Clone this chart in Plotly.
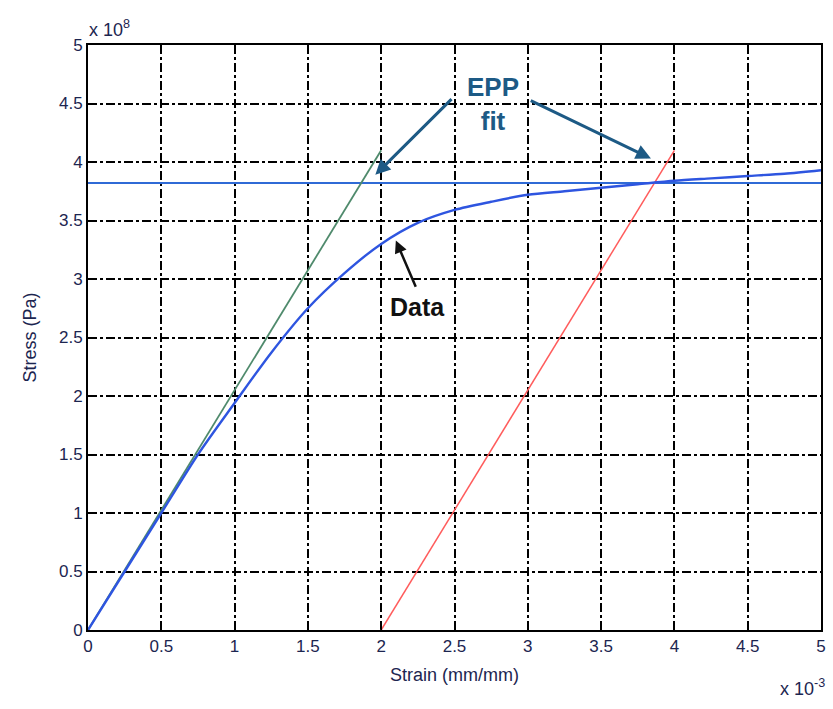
import plotly.graph_objects as go

# Measured stress-strain response (strain in 1e-3 mm/mm, stress in 1e8 Pa)
strain_data = [0, 0.25, 0.5, 0.75, 1.0, 1.25, 1.5, 1.75, 2.0, 2.25, 2.5,
               2.75, 3.0, 3.25, 3.5, 3.75, 4.0, 4.25, 4.5, 4.75, 5.0]
stress_data = [0, 0.5, 1.0, 1.5, 1.94, 2.37, 2.75, 3.05, 3.30, 3.48, 3.59,
               3.66, 3.72, 3.75, 3.78, 3.81, 3.84, 3.86, 3.88, 3.90, 3.93]

# Elastic-perfectly-plastic fit
yield_strain = [0, 5]
yield_stress = [3.82, 3.82]
elastic_strain = [0, 2.0]
elastic_stress = [0, 4.1]
offset_strain = [2.0, 4.0]
offset_stress = [0, 4.1]

x_ticks = [0, 0.5, 1, 1.5, 2, 2.5, 3, 3.5, 4, 4.5, 5]
y_ticks = [0, 0.5, 1, 1.5, 2, 2.5, 3, 3.5, 4, 4.5, 5]
x_tick_text = ["0", "0.5", "1", "1.5", "2", "2.5", "3", "3.5", "4", "4.5", "5"]
y_tick_text = ["0", "0.5", "1", "1.5", "2", "2.5", "3", "3.5", "4", "4.5", "5"]

TXT = "#1c2550"
ANN = "#1d5a85"
FONT = "Liberation Sans, Arial"

fig = go.Figure()
fig.add_trace(go.Scatter(x=yield_strain, y=yield_stress, mode="lines",
                         line=dict(color="#2f6ad6", width=2), hoverinfo="skip"))
fig.add_trace(go.Scatter(x=elastic_strain, y=elastic_stress, mode="lines",
                         line=dict(color="#4f8a6c", width=1.8), hoverinfo="skip"))
fig.add_trace(go.Scatter(x=offset_strain, y=offset_stress, mode="lines",
                         line=dict(color="#ff5c5c", width=1.5), hoverinfo="skip"))
fig.add_trace(go.Scatter(x=strain_data, y=stress_data, mode="lines",
                         line=dict(color="#2e55e0", width=2.4, shape="spline",
                                   smoothing=0.8),
                         hoverinfo="skip"))

axis_common = dict(
    showline=True, linecolor="black", linewidth=2, mirror=True,
    showgrid=True, gridcolor="black", gridwidth=1.5, griddash="dashdot",
    ticks="inside", ticklen=5, tickcolor="black", zeroline=False,
    tickfont=dict(family=FONT, size=17, color=TXT),
)

fig.update_xaxes(range=[0, 5], tickvals=x_ticks, ticktext=x_tick_text,
                 title=dict(text="Strain (mm/mm)", standoff=13,
                            font=dict(family=FONT, size=18, color=TXT)),
                 **axis_common)
fig.update_yaxes(range=[0, 5], tickvals=y_ticks, ticktext=y_tick_text,
                 title=dict(text="Stress (Pa)", standoff=18,
                            font=dict(family=FONT, size=18, color=TXT)),
                 **axis_common)

annotations = [
    dict(x=2.76, y=4.5, text="<b>EPP<br>fit</b>", showarrow=False,
         font=dict(family=FONT, size=26, color=ANN)),
    dict(x=1.96, y=3.89, ax=2.49, ay=4.55, axref="x", ayref="y",
         showarrow=True, arrowhead=2, arrowsize=1, arrowwidth=3, arrowcolor=ANN, text=""),
    dict(x=3.84, y=4.03, ax=3.01, ay=4.53, axref="x", ayref="y",
         showarrow=True, arrowhead=2, arrowsize=1, arrowwidth=3, arrowcolor=ANN, text=""),
    dict(x=2.25, y=2.76, text="<b>Data</b>", showarrow=False,
         font=dict(family=FONT, size=25, color="#111111")),
    dict(x=2.10, y=3.33, ax=2.24, ay=2.92, axref="x", ayref="y",
         showarrow=True, arrowhead=2, arrowsize=1, arrowwidth=2.5, arrowcolor="#111111", text=""),
    dict(x=0, y=1, xref="paper", yref="paper", xanchor="left", yanchor="bottom",
         xshift=-1, yshift=3, text="x 10<sup>8</sup>", showarrow=False,
         font=dict(family=FONT, size=18, color=TXT)),
    dict(x=1, y=0, xref="paper", yref="paper", xanchor="right", yanchor="top",
         xshift=6, yshift=-44, text="x 10<sup>-3</sup>", showarrow=False,
         font=dict(family=FONT, size=18, color=TXT)),
]

fig.update_layout(
    width=833, height=709,
    margin=dict(l=88, r=7, t=45, b=79),
    paper_bgcolor="white", plot_bgcolor="white",
    showlegend=False,
    annotations=annotations,
)

fig.write_html("out.html")
